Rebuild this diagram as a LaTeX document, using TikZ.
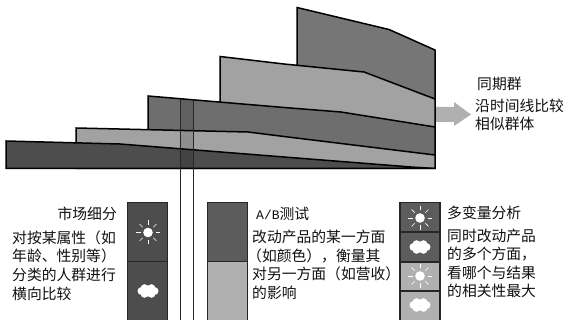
\documentclass[tikz,border=0pt]{standalone}
\usepackage{fontspec}
\setmainfont{Noto Sans CJK SC}
\newfontfamily\latinmono{Liberation Mono}
\definecolor{cdark}{HTML}{4D4D4D}
\definecolor{cmid}{HTML}{6E6E6E}
\definecolor{clight}{HTML}{A2A2A2}
\definecolor{ctop}{HTML}{767676}
\definecolor{cpale}{HTML}{B0B0B0}
\definecolor{cbar}{HTML}{5C5C5C}
\definecolor{ctext}{HTML}{111111}
\tikzset{
  layer/.style={draw=black,line width=1.5pt,line join=miter},
  cell/.style={draw=black!85,line width=1.1pt},
  vline/.style={draw=black!85,line width=1pt},
  label/.style={inner sep=0pt,anchor=north west,align=left,text=ctext,font=\fontsize{14.8}{18.6}\selectfont},
  labelr/.style={label,anchor=north east,align=right},
  sunicon/.pic={
    \fill[white] (0,0) circle (4.8);
    \foreach \a in {0,45,...,315}
      \draw[white,line width=.7pt] (\a:7.5) -- (\a:12);
  },
  cloudicon/.pic={
    \fill[white] (-6.5,0) circle (4) (6.5,0) circle (4) (-3.5,-3) circle (3.8) (3.5,-3) circle (3.8)
      (-3.5,3) circle (3.8) (3.5,3) circle (3.8) (0,0) circle (5.5);
  }
}
\begin{document}
\begin{tikzpicture}[x=1pt,y=-1pt]
\useasboundingbox (0,0) rectangle (568,320);
\fill[white] (0,0) rectangle (568,320);
% layered cohort shapes, back to front
\draw[layer,fill=ctop] (297,7.5) -- (389,29.5) -- (435,50) -- (435,105) -- (297,105) -- cycle;
\draw[layer,fill=clight] (220,56.5) -- (284,64) -- (364,72) -- (435,99) -- (435,130) -- (220,130) -- cycle;
\draw[layer,fill=cmid] (148,96) -- (284,107.5) -- (341,112) -- (435,127) -- (435,158) -- (148,158) -- cycle;
\draw[layer,fill=clight] (76,128) -- (248,132) -- (284,136.5) -- (435,155) -- (435,168.5) -- (76,168.5) -- cycle;
\draw[layer,fill=cdark] (6,141) -- (120,144) -- (284,157) -- (411,167) -- (435,168.5) -- (6,168.5) -- cycle;
% vertical slice
\fill[black,opacity=.12] (180.5,99) rectangle (193,168);
\draw[vline] (180.5,99) -- (180.5,320);
\draw[vline] (193,99.5) -- (193,320);
% arrow
\fill[cpale] (436,107) -- (454,107) -- (454,102) -- (471,114.5) -- (454,126) -- (454,122) -- (436,122) -- cycle;
% bars
\draw[cell,fill=cdark] (127.5,202.5) rectangle (167.5,261.5);
\draw[cell,fill=cdark] (127.5,261.5) rectangle (167.5,322);
\draw[cell,fill=cbar] (207.5,202.5) rectangle (247.5,261.5);
\draw[cell,fill=cpale] (207.5,261.5) rectangle (247.5,322);
\draw[cell,fill=cbar] (400,202.5) rectangle (440,232);
\draw[cell,fill=cbar] (400,232) rectangle (440,262);
\draw[cell,fill=cpale] (400,262) rectangle (440,291);
\draw[cell,fill=cpale] (400,291) rectangle (440,322);
% icons
\pic at (148,232.5) {sunicon};
\pic at (148,291) {cloudicon};
\pic at (420,218) {sunicon};
\pic at (420,247) {cloudicon};
\pic at (420,276) {sunicon};
\pic at (420,305) {cloudicon};
% texts
\node[label] (cohort) at (477,76.5) {同期群};
\node[label] (cohortd) at (475,98.5) {沿时间线比较\\相似群体};
\node[labelr] (seg) at (117,206.5) {市场细分};
\node[label] (segd) at (12,230.5) {对按某属性（如\\年龄、性别等）\\分类的人群进行\\横向比较};
\node[label] (ab) at (256,206.5) {{\latinmono\fontsize{13}{18.6}\selectfont A/B}测试};
\node[label] (abd) at (252,230) {改动产品的某一方面\\\hspace*{-5pt}（如颜色），衡量其\\对另一方面（如营收）\\的影响};
\node[label] (mv) at (447,205.5) {多变量分析};
\node[label] (mvd) at (447,228.5) {同时改动产品\\的多个方面，\\看哪个与结果\\的相关性最大};
\end{tikzpicture}
\end{document}
